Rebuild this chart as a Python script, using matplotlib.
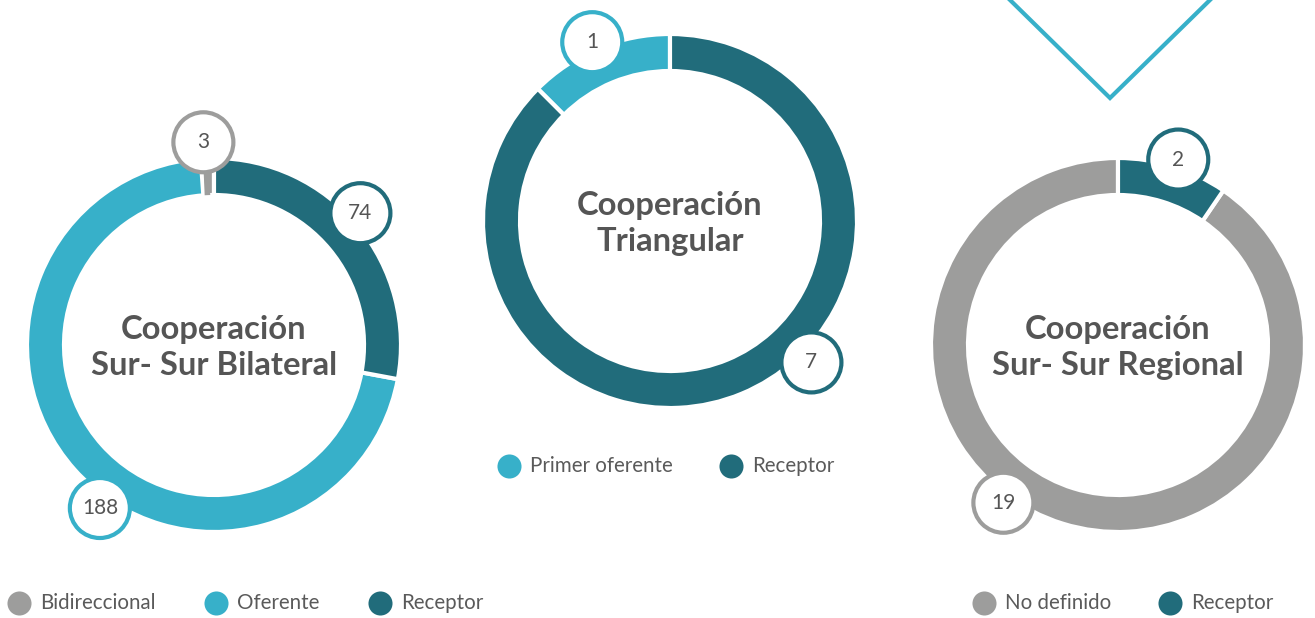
import numpy as np
import matplotlib.pyplot as plt

# data
bil_cats = ['Bidireccional', 'Oferente', 'Receptor']
bil_vals = [3, 188, 74]
tri_cats = ['Primer oferente', 'Receptor']
tri_vals = [1, 7]
reg_cats = ['No definido', 'Receptor']
reg_vals = [19, 2]

GRAY = '#9d9d9c'
LBLUE = '#37b0c9'
DARK = '#216c7b'
TXT = '#555555'

plt.rcParams['font.family'] = ['Lato', 'DejaVu Sans']

W, H = 1315, 618
fig = plt.figure(figsize=(W / 100, H / 100), dpi=100)
ax = fig.add_axes([0, 0, 1, 1])
ax.set_xlim(0, W)
ax.set_ylim(0, H)
ax.set_aspect('equal')
ax.axis('off')

R, RW = 187, 37


def donut(center, vals, colors, title, lab_ang, lab_dist):
    cx, cy = center
    ax.pie(vals, colors=colors, startangle=90, counterclock=True, center=center,
           radius=R, wedgeprops=dict(width=RW, edgecolor='white', linewidth=3),
           frame=True)
    ax.text(cx, cy - 2.5, title, ha='center', va='center', fontsize=23.6,
            fontweight='bold', color=TXT, linespacing=1.32)
    for v, c, a, d in zip(vals, colors, lab_ang, lab_dist):
        t = np.radians(a)
        x, y = cx + d * np.sin(t), cy + d * np.cos(t)
        ax.add_patch(plt.Circle((x, y), 30, facecolor='white', edgecolor=c,
                                linewidth=3, zorder=5))
        ax.text(x, y, str(v), ha='center', va='center', fontsize=15,
                color=TXT, zorder=6)


def legend(cats, colors, xs, y):
    for cat, c, x in zip(cats, colors, xs):
        ax.scatter([x], [y], s=300, color=c, zorder=5, linewidths=0)
        ax.text(x + 21, y, cat, ha='left', va='center', fontsize=14.8, color='#5a5a5a')


# left - bilateral
donut((214, H - 345), bil_vals, [GRAY, LBLUE, DARK], 'Cooperación\nSur- Sur Bilateral',
      [-3, 215, 48], [203, 199, 197])
# connector of small slice
a = np.radians(-2.5)
ax.plot([214 + 150 * np.sin(a), 214 + 185 * np.sin(a)],
        [H - 345 + 150 * np.cos(a), H - 345 + 185 * np.cos(a)],
        color=GRAY, linewidth=4, zorder=4, solid_capstyle='butt')
legend(bil_cats, [GRAY, LBLUE, DARK], [19, 216, 380], H - 603)

# middle - triangular
donut((670, H - 221), tri_vals, [LBLUE, DARK], 'Cooperación\nTriangular',
      [-23.5, 135], [195, 200])
legend(tri_cats, [LBLUE, DARK], [509, 731], H - 466)

# right - regional
donut((1118, H - 345), reg_vals, [GRAY, DARK], 'Cooperación\nSur- Sur Regional',
      [216, 18], [195, 195])
legend(reg_cats, [GRAY, DARK], [984, 1170], H - 603)

# chevron decoration
ax.plot([1008, 1110, 1212], [H + 2, H - 98, H + 2], color=LBLUE, linewidth=3,
        solid_joinstyle='miter')

ax.set_xlim(0, W)
ax.set_ylim(0, H)
ax.axis('off')

fig.savefig('out.png', dpi=100, facecolor='white')
